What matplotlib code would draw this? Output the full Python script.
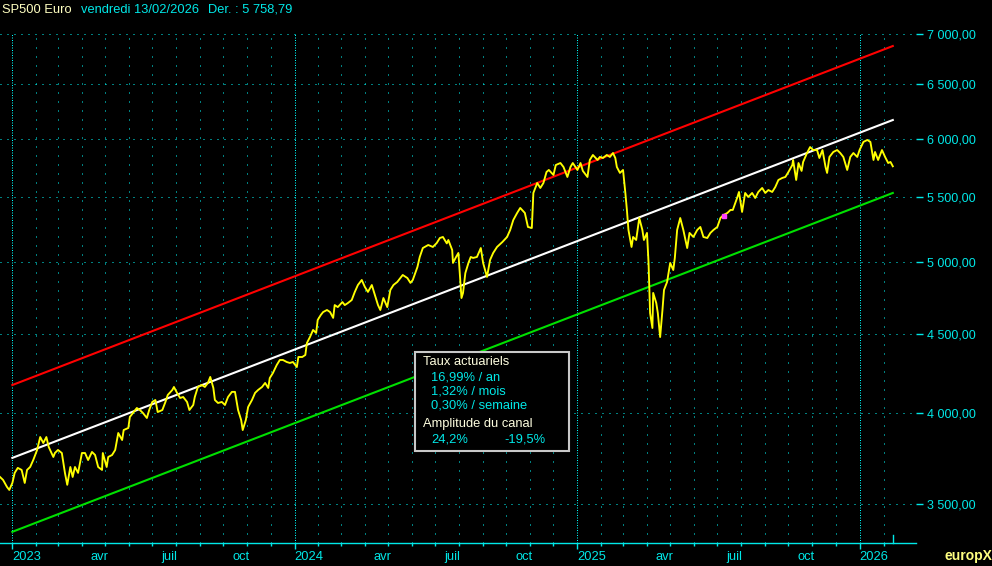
import matplotlib
matplotlib.use("Agg")
import matplotlib.pyplot as plt
import matplotlib.transforms as mtransforms
from matplotlib.patches import Rectangle
from matplotlib.ticker import NullLocator
import pandas as pd

plt.rcParams['font.family'] = ['Liberation Sans', 'DejaVu Sans']

# ---- donnees ----
titre = "SP500 Euro"
date_txt = "vendredi 13/02/2026"
dernier_txt = "Der. : 5 758,79"

origine = "2022-12-16"   # jours comptes depuis cette date
jours = [0, 4, 9, 12, 16, 19, 23, 28, 32, 35,
         39, 43, 48, 52, 56, 60, 63, 69, 71, 75,
         80, 84, 87, 91, 94, 97, 101, 106, 110, 114,
         119, 123, 127, 132, 133, 138, 140, 145, 149, 153,
         158, 160, 166, 168, 172, 177, 181, 185, 190, 193,
         197, 201, 204, 210, 214, 217, 223, 225, 229, 233,
         237, 242, 245, 250, 252, 256, 261, 265, 269, 272,
         276, 278, 282, 287, 291, 295, 300, 304, 308, 312,
         314, 318, 321, 326, 330, 334, 339, 343, 347, 349,
         353, 358, 362, 366, 371, 375, 379, 384, 386, 391,
         395, 397, 401, 405, 409, 411, 415, 418, 423, 427,
         431, 433, 437, 443, 446, 450, 455, 459, 463, 468,
         472, 476, 481, 485, 489, 492, 496, 501, 505, 509,
         514, 518, 521, 527, 531, 534, 540, 543, 547, 554,
         560, 565, 569, 573, 578, 580, 585, 586, 590, 593,
         597, 599, 602, 606, 609, 612, 617, 622, 625, 630,
         634, 638, 643, 650, 656, 660, 664, 669, 673, 679,
         683, 688, 690, 695, 699, 703, 707, 710, 716, 719,
         725, 729, 734, 738, 741, 747, 751, 754, 760, 763,
         767, 773, 776, 780, 785, 789, 793, 796, 798, 802,
         806, 809, 811, 813, 817, 819, 823, 827, 831, 833,
         837, 839, 841, 844, 845, 849, 851, 854, 857, 859,
         863, 867, 871, 873, 876, 880, 884, 889, 892, 897,
         902, 906, 910, 915, 919, 923, 928, 932, 936, 941,
         945, 948, 954, 956, 960, 964, 968, 973, 977, 981,
         986, 990, 994, 999, 1003, 1007, 1012, 1016, 1020, 1025,
         1026, 1030, 1033, 1037, 1039, 1044, 1048, 1052, 1057, 1060,
         1064, 1068, 1070, 1073, 1078, 1083, 1087, 1091, 1096, 1100,
         1104, 1109, 1112, 1117, 1122, 1126, 1130, 1132, 1136, 1141,
         1145, 1149, 1152, 1155]
cours = [3642, 3626, 3589, 3573, 3610, 3664, 3691, 3680, 3610, 3680,
         3696, 3734, 3790, 3863, 3829, 3863, 3807, 3751, 3773, 3790,
         3773, 3664, 3600, 3696, 3642, 3696, 3664, 3773, 3773, 3734,
         3779, 3762, 3696, 3680, 3773, 3696, 3751, 3762, 3790, 3886,
         3846, 3903, 3915, 3979, 4002, 4032, 4020, 4002, 3973, 4020,
         4068, 4080, 4008, 4020, 4068, 4110, 4141, 4159, 4123, 4092,
         4098, 4068, 4020, 4050, 4098, 4159, 4171, 4159, 4184, 4221,
         4153, 4080, 4062, 4068, 4050, 4098, 4129, 4129, 4020, 3961,
         3903, 3961, 4038, 4080, 4123, 4141, 4159, 4184, 4153, 4214,
         4245, 4296, 4328, 4328, 4315, 4309, 4315, 4283, 4347, 4347,
         4360, 4437, 4477, 4524, 4504, 4591, 4625, 4645, 4659, 4645,
         4605, 4693, 4679, 4714, 4693, 4707, 4728, 4785, 4834, 4870,
         4820, 4785, 4834, 4763, 4693, 4659, 4742, 4679, 4799, 4834,
         4856, 4884, 4906, 4884, 4849, 4870, 4964, 5038, 5105, 5128,
         5113, 5143, 5181, 5189, 5140, 5166, 5090, 4994, 5038, 5068,
         4742, 4778, 4920, 4994, 5038, 5031, 5038, 5105, 4994, 4892,
         5016, 5068, 5113, 5151, 5189, 5243, 5320, 5376, 5416, 5376,
         5266, 5258, 5537, 5619, 5578, 5619, 5711, 5728, 5686, 5770,
         5787, 5753, 5669, 5753, 5787, 5728, 5787, 5720, 5669, 5813,
         5856, 5813, 5839, 5830, 5856, 5839, 5873, 5830, 5753, 5703,
         5728, 5537, 5400, 5243, 5113, 5189, 5166, 5336, 5243, 5166,
         5220, 4994, 4638, 4537, 4778, 4707, 4638, 4477, 4659, 4799,
         4856, 4994, 4942, 5031, 5243, 5336, 5243, 5105, 5220, 5189,
         5243, 5266, 5189, 5181, 5220, 5243, 5266, 5336, 5360, 5376,
         5400, 5400, 5504, 5545, 5384, 5537, 5504, 5537, 5496, 5545,
         5578, 5537, 5561, 5545, 5586, 5644, 5661, 5669, 5711, 5770,
         5813, 5644, 5787, 5720, 5796, 5873, 5925, 5899, 5899, 5830,
         5899, 5753, 5703, 5839, 5882, 5899, 5873, 5839, 5728, 5839,
         5873, 5839, 5899, 5970, 5987, 5970, 5813, 5882, 5813, 5899,
         5839, 5787, 5796, 5759]

# canal de tendance (debut / fin)
canal_dates = ["2023-01-01", "2026-02-13"]
canal_haut = [4171, 6877]
canal_milieu = [3746, 6166]
canal_bas = [3359, 5537]

# petit repere magenta
repere_jour = [936]
repere_cours = [5352]

niveaux = [3500, 4000, 4500, 5000, 5500, 6000, 6500, 7000]

taux_lignes = ["16,99% / an", "1,32% / mois", "0,30% / semaine"]
amplitude = ["24,2%", "-19,5%"]

mois_fr = {4: "avr", 7: "juil", 10: "oct"}

# ---- figure ----
W, H = 992, 566
CYAN = "#00E8E8"
fig = plt.figure(figsize=(W / 100, H / 100), dpi=100, facecolor="black")
ax = fig.add_axes([0, 23 / H, 916 / W, 509 / H], facecolor="black")

t0 = pd.Timestamp(origine)
dates = t0 + pd.to_timedelta(jours, unit="D")

ax.set_yscale("log")
ax.set_ylim(3304, 7000)
ax.set_xlim(t0, t0 + pd.Timedelta(days=1185))

ax.plot(pd.to_datetime(canal_dates), canal_haut, color="#FF0000", lw=1.5, zorder=3)
ax.plot(pd.to_datetime(canal_dates), canal_milieu, color="white", lw=1.5, zorder=3)
ax.plot(pd.to_datetime(canal_dates), canal_bas, color="#00E000", lw=1.5, zorder=3)
ax.plot(dates, cours, color="#FFFF00", lw=1.35, zorder=4)
ax.plot(t0 + pd.to_timedelta(repere_jour, unit="D"), repere_cours, "s",
        color="#FF40FF", ms=2.2, zorder=5)

# axe y a droite
ax.yaxis.tick_right()
ax.yaxis.set_minor_locator(NullLocator())
ax.set_yticks(niveaux, [f"{v:,.2f}".replace(",", " ").replace(".", ",") for v in niveaux])
ax.tick_params(axis="y", which="major", colors=CYAN, labelcolor=CYAN, length=5,
               width=1, pad=3, labelsize=9)
ax.yaxis.grid(True, color="#00FFFF", lw=0.72, linestyle=(0, (1, 6)))

# axe x : annees + mois
annees = pd.date_range("2023-01-01", "2026-01-01", freq="YS")
mois = pd.date_range("2023-02-01", "2026-02-01", freq="MS")
ax.set_xticks(annees, [str(d.year) for d in annees])
ax.set_xticks(mois, [mois_fr.get(d.month, "") for d in mois], minor=True)
ax.tick_params(axis="x", which="major", colors=CYAN, labelcolor=CYAN, length=4.3,
               width=1, pad=1.6, labelsize=9.3)
ax.tick_params(axis="x", which="minor", colors=CYAN, labelcolor=CYAN, length=2.2,
               width=1, pad=3.7, labelsize=9.3)
for lab in ax.get_xticklabels():
    lab.set_horizontalalignment("left")
decal = mtransforms.ScaledTranslation(9 / 100, 0, fig.dpi_scale_trans)
for lab in ax.get_xticklabels(minor=True):
    lab.set_horizontalalignment("left")
    lab.set_transform(lab.get_transform() + decal)
ax.xaxis.grid(True, which="major", color="#00FFFF", lw=0.72, linestyle=(0, (1, 1.5)))
ax.xaxis.grid(True, which="minor", color="#00FFFF", lw=0.72, linestyle=(0, (1, 8)))

for s in ["top", "left", "right"]:
    ax.spines[s].set_visible(False)
ax.spines["bottom"].set_color(CYAN)
ax.spines["bottom"].set_linewidth(1)

# trait du dernier jour
trans = mtransforms.blended_transform_factory(ax.transData, ax.transAxes)
ax.plot([dates[-1], dates[-1]], [0, 0.016], color=CYAN, lw=1, transform=trans,
        clip_on=False)

# ---- textes ----
def fx(px):
    return px / W


def fy(py):
    return 1 - py / H


fig.text(fx(2), fy(10), titre, color="#FFFFC0", fontsize=9.3, va="center")
fig.text(fx(81), fy(10), date_txt, color=CYAN, fontsize=9.3, va="center")
fig.text(fx(208), fy(10), dernier_txt, color=CYAN, fontsize=9.3, va="center")
fig.text(1.0, fy(556), "europX", color="#FFFF80", fontsize=10, fontweight="bold",
         va="center", ha="right")

# encadre
fig.add_artist(Rectangle((fx(415), fy(451)), fx(569) - fx(415), fy(352) - fy(451),
                         transform=fig.transFigure, facecolor="black",
                         edgecolor="#C8C8C8", lw=1.5, zorder=6))
fig.text(fx(423), fy(362), "Taux actuariels", color="#FFFFE0", fontsize=9.3,
         va="center", zorder=7)
for i, ligne in enumerate(taux_lignes):
    fig.text(fx(431), fy(378 + 13.5 * i), ligne, color=CYAN, fontsize=9.3,
             va="center", zorder=7)
fig.text(fx(423), fy(424), "Amplitude du canal", color="#FFFFE0", fontsize=9.3,
         va="center", zorder=7)
fig.text(fx(431), fy(440), amplitude[0], color=CYAN, fontsize=9.3, va="center", zorder=7)
fig.text(fx(504), fy(440), amplitude[1], color=CYAN, fontsize=9.3, va="center", zorder=7)

fig.savefig("out.png", dpi=100, facecolor="black")
